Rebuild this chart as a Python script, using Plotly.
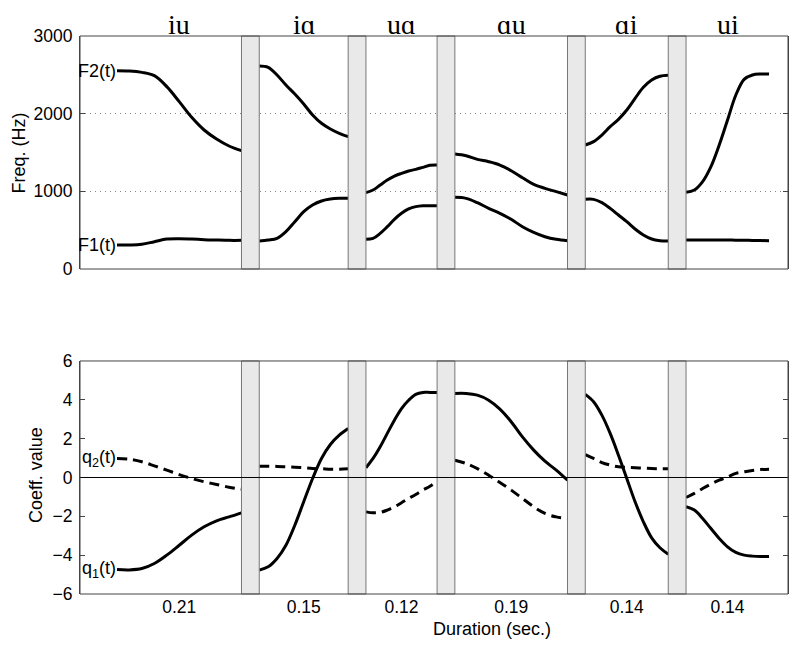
# formant tracks F1/F2 and coefficients q1/q2 for six vowel transitions

import plotly.graph_objects as go
from plotly.subplots import make_subplots

# segment info
transitions = ['iu', 'iɑ', 'uɑ', 'ɑu', 'ɑi', 'ui']
durations = [0.21, 0.15, 0.12, 0.19, 0.14, 0.14]
duration_labels = ['0.21', '0.15', '0.12', '0.19', '0.14', '0.14']
gap = 0.03  # grey separator between segments (sec.)

# 11 samples per segment, equally spaced over the segment duration
n_samples = 11

f2 = [
    [2554, 2550, 2532, 2489, 2348, 2155, 1953, 1790, 1674, 1584, 1524],
    [2614, 2597, 2498, 2369, 2253, 2125, 1983, 1876, 1803, 1747, 1704],
    [983, 1017, 1082, 1146, 1197, 1232, 1262, 1283, 1309, 1335, 1339],
    [1481, 1459, 1412, 1382, 1339, 1266, 1176, 1090, 1039, 996, 953],
    [1597, 1640, 1725, 1833, 1927, 2047, 2197, 2339, 2434, 2481, 2494],
    [987, 1017, 1125, 1318, 1597, 1918, 2240, 2442, 2498, 2511, 2511],
]
f1 = [
    [309, 309, 318, 352, 386, 391, 386, 378, 373, 369, 369],
    [361, 373, 395, 481, 609, 738, 824, 876, 901, 910, 910],
    [382, 395, 459, 545, 640, 717, 773, 803, 815, 815, 815],
    [923, 910, 854, 781, 717, 640, 545, 472, 416, 382, 365],
    [897, 897, 854, 781, 695, 609, 515, 438, 386, 365, 361],
    [373, 374, 375, 375, 375, 374, 372, 370, 368, 366, 364],
]
q1 = [
    [-4.74, -4.76, -4.69, -4.43, -4.00, -3.49, -2.97, -2.54, -2.23, -2.03, -1.82],
    [-4.77, -4.60, -4.17, -3.49, -2.46, -1.25, -0.05, 0.98, 1.70, 2.18, 2.52],
    [0.50, 0.98, 1.58, 2.27, 2.95, 3.55, 3.98, 4.28, 4.38, 4.38, 4.38],
    [4.33, 4.33, 4.24, 3.98, 3.52, 2.87, 2.09, 1.41, 0.84, 0.38, -0.14],
    [4.28, 3.90, 3.21, 2.27, 1.15, -0.05, -1.25, -2.28, -3.11, -3.62, -3.95],
    [-1.51, -1.68, -2.11, -2.63, -3.14, -3.57, -3.86, -4.00, -4.05, -4.07, -4.07],
]
q2 = [
    [0.98, 0.94, 0.81, 0.60, 0.38, 0.15, -0.05, -0.22, -0.36, -0.50, -0.60],
    [0.58, 0.58, 0.57, 0.55, 0.53, 0.50, 0.46, 0.45, 0.43, 0.43, 0.45],
    [-1.77, -1.82, -1.80, -1.68, -1.51, -1.30, -1.08, -0.88, -0.65, -0.45, -0.19],
    [0.89, 0.72, 0.46, 0.12, -0.26, -0.65, -1.08, -1.51, -1.85, -2.03, -2.11],
    [1.18, 0.98, 0.77, 0.64, 0.55, 0.52, 0.50, 0.48, 0.46, 0.45, 0.45],
    [-1.03, -0.82, -0.57, -0.34, -0.14, 0.03, 0.21, 0.29, 0.36, 0.41, 0.43],
]

# segment start times
starts = []
t = 0.0
for d in durations:
    starts.append(t)
    t += d + gap
total = starts[-1] + durations[-1]
x_range = [-0.0624, total + 0.032]

fig = make_subplots(rows=2, cols=1, vertical_spacing=0.1648)

black_line = dict(color='black', width=3)
dash_line = dict(color='black', width=3, dash='10px,6px')

for k in range(len(durations)):
    xs = [starts[k] + durations[k] * i / (n_samples - 1) for i in range(n_samples)]
    fig.add_trace(go.Scatter(x=xs, y=f2[k], mode='lines', line=black_line,
                             line_shape='spline'), row=1, col=1)
    fig.add_trace(go.Scatter(x=xs, y=f1[k], mode='lines', line=black_line,
                             line_shape='spline'), row=1, col=1)
    fig.add_trace(go.Scatter(x=xs, y=q2[k], mode='lines', line=dash_line,
                             line_shape='spline'), row=2, col=1)
    fig.add_trace(go.Scatter(x=xs, y=q1[k], mode='lines', line=black_line,
                             line_shape='spline'), row=2, col=1)

# grey separators (drawn above so they hide the dotted grid)
for k in range(len(durations) - 1):
    x0 = starts[k] + durations[k]
    x1 = starts[k + 1]
    for xr, yr in [('x', 'y domain'), ('x2', 'y2 domain')]:
        fig.add_shape(type='rect', xref=xr, yref=yr, x0=x0, x1=x1, y0=0, y1=1,
                      fillcolor='#e9e9e9', line=dict(color='#777777', width=1),
                      layer='above')

# zero line in the coefficient panel, crosses the separators
fig.add_shape(type='line', xref='x2 domain', yref='y2', x0=0, x1=1, y0=0, y1=0,
              line=dict(color='black', width=1), layer='above')

# box around both panels (paper refs so it is not clipped)
top_dom = [0.5824, 1.0]
bot_dom = [0.0, 0.4176]
for dom in [top_dom, bot_dom]:
    fig.add_shape(type='rect', xref='paper', yref='paper', x0=0, x1=1,
                  y0=dom[0], y1=dom[1], line=dict(color='#444444', width=1),
                  layer='above')

# transition labels above the top panel
for k, lab in enumerate(transitions):
    fig.add_annotation(x=starts[k] + durations[k] / 2, y=1.05, xref='x', yref='y domain',
                       text=lab, showarrow=False, xanchor='center', yanchor='middle',
                       font=dict(family='Liberation Serif', size=28, color='black'))

lab_font = dict(family='Liberation Sans', size=18, color='black')
fig.add_annotation(x=0, y=f2[0][0], xref='x', yref='y', text='F2(t)', showarrow=False,
                   xanchor='right', xshift=1, font=lab_font)
fig.add_annotation(x=0, y=f1[0][0], xref='x', yref='y', text='F1(t)', showarrow=False,
                   xanchor='right', xshift=1, font=lab_font)
fig.add_annotation(x=0, y=q2[0][0], xref='x2', yref='y2', text='q<sub>2</sub>(t)',
                   showarrow=False, xanchor='right', xshift=1, font=lab_font)
fig.add_annotation(x=0, y=q1[0][0], xref='x2', yref='y2', text='q<sub>1</sub>(t)',
                   showarrow=False, xanchor='right', xshift=1, font=lab_font)

# axis titles
fig.add_annotation(x=-0.0862, y=0.791, xref='paper', yref='paper', text='Freq. (Hz)',
                   textangle=-90, showarrow=False, xanchor='center', yanchor='middle',
                   font=lab_font)
fig.add_annotation(x=-0.0621, y=0.2133, xref='paper', yref='paper', text='Coeff. value',
                   textangle=-90, showarrow=False, xanchor='center', yanchor='middle',
                   font=lab_font)
fig.add_annotation(x=0.582, y=-0.062, xref='paper', yref='paper', text='Duration (sec.)',
                   showarrow=False, xanchor='center', yanchor='middle', font=lab_font)

tick_font = dict(family='Liberation Sans', size=17.5, color='black')

fig.update_xaxes(range=x_range, showgrid=False, zeroline=False, ticks='', showline=False)
fig.update_xaxes(showticklabels=False, row=1, col=1)
fig.update_xaxes(tickvals=[starts[k] + durations[k] / 2 for k in range(len(durations))],
                 ticktext=duration_labels, tickfont=tick_font, row=2, col=1)

fig.update_yaxes(range=[0, 3000], tickvals=[0, 1000, 2000, 3000], showgrid=True,
                 gridcolor='#888888', griddash='1px,4px', gridwidth=1, row=1, col=1)
fig.update_yaxes(range=[-6, 6], tickvals=[-6, -4, -2, 0, 2, 4, 6], showgrid=False,
                 row=2, col=1)
fig.update_yaxes(zeroline=False, showline=True, linecolor='#444444', linewidth=1,
                 mirror='ticks', ticks='inside', ticklen=5, tickcolor='#444444',
                 tickfont=tick_font, ticklabelstandoff=3)

# page body adds an 8px offset, margins compensate for it
fig.update_layout(width=800, height=647, showlegend=False,
                  plot_bgcolor='white', paper_bgcolor='white',
                  margin=dict(l=72, r=20, t=28, b=61))

fig.write_html("out.html")
